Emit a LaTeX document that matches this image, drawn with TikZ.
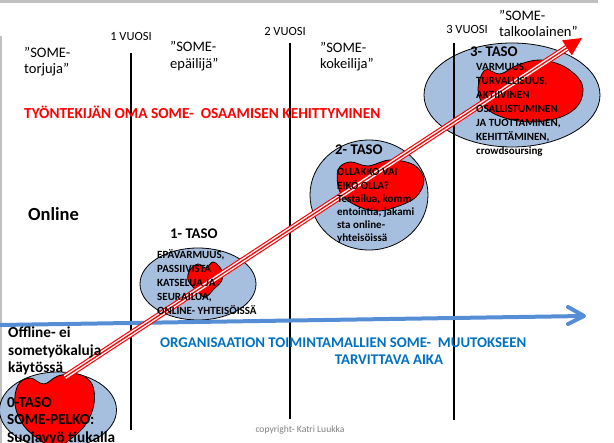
\documentclass[tikz,border=0pt]{standalone}
\usepackage{fontspec}
\setmainfont{Carlito}
\usetikzlibrary{calc,shapes.geometric}
\definecolor{framegray}{RGB}{192,192,192}
\definecolor{stagefill}{RGB}{167,191,222}
\definecolor{timeblue}{RGB}{85,142,213}
\definecolor{textblue}{RGB}{0,112,192}
\definecolor{copygray}{RGB}{128,128,128}
\newcommand\fsz[2]{\fontsize{#1}{#2}\selectfont}
\tikzset{
  vline/.style={line width=2.6pt, black},
  stage/.style={ellipse, draw=black, line width=0.8pt, fill=stagefill, inner sep=0},
  blob/.style={draw=black, line width=0.8pt, fill=red},
  yearlbl/.style={inner sep=0, font=\fsz{12.5}{14}},
  rolelbl/.style={inner sep=0, align=left, anchor=north west, font=\fsz{14.5}{16.5}},
  tasolbl/.style={inner sep=0, anchor=west, font=\fsz{14.8}{16}\bfseries},
  tasotext/.style={inner sep=0, align=left, anchor=north west},
}
\begin{document}
\begin{tikzpicture}[x=1pt,y=-1pt]
\useasboundingbox (0,0) rectangle (614,443);
\clip (0,0) rectangle (614,443);
% frame
\draw[framegray, line width=3pt] (0,1.5) -- (598,1.5);
\draw[framegray, line width=2.5pt] (1.2,36) -- (1.2,443);

% stage ellipses
\node[stage, minimum width=117pt, minimum height=76pt] (e0) at (58,410) {};
\node[stage, minimum width=116pt, minimum height=72pt] (e1) at (198,284) {};
\node[stage, minimum width=118pt, minimum height=110pt] (e2) at (369,195) {};
\node[stage, minimum width=176pt, minimum height=104pt] (e3) at (512,95) {};

% red blobs
\draw[blob] plot[smooth cycle, tension=0.6] coordinates {(18,385) (30,378) (44,384) (58,376) (78,374) (92,384) (94,404) (86,424) (72,438) (55,448) (40,440) (24,426) (15,405)};
\draw[blob] plot[smooth cycle, tension=0.6] coordinates {(190,270) (198,264) (206,268) (213,262) (221,269) (222,280) (214,289) (205,297) (196,290) (188,280)};
\draw[blob] plot[smooth cycle, tension=0.6] coordinates {(338,170) (350,162) (368,166) (390,160) (414,165) (424,180) (416,197) (396,207) (376,211) (355,205) (340,192)};
\draw[blob] plot[smooth cycle, tension=0.6] coordinates {(485,70) (500,74) (518,65) (540,60) (565,67) (582,84) (579,104) (561,117) (532,122) (505,118) (486,108) (478,90)};

% vertical year lines
\coordinate (v1t) at (131,53); \coordinate (v1b) at (131,430);
\coordinate (v2t) at (290,43); \coordinate (v2b) at (290,419);
\coordinate (v3t) at (454,43); \coordinate (v3b) at (454,420);
\draw[vline] (v1t) -- (v1b);
\draw[vline] (v2t) -- (v2b);
\draw[vline] (v3t) -- (v3b);

% blue time arrow
\coordinate (ts) at (0,325);
\coordinate (te) at (584,316);
\coordinate (tu) at (568,307);
\coordinate (tl) at (568,324);
\draw[timeblue, line width=4pt] (ts) -- (te);
\draw[timeblue, line width=4pt, line cap=round, line join=round] (tu) -- (te) -- (tl);

% red development arrow (triple line)
\coordinate (rs) at (65,377);
\coordinate (rt) at (582,38);
\coordinate (rb) at ($(rt)!18pt!(rs)$);
\draw[red, line width=6.5pt] (rs) -- (rb);
\draw[white, line width=4.2pt] (rs) -- (rb);
\draw[red, line width=1.3pt] (rs) -- (rb);
\fill[red] (rt) -- ($(rb)!9pt!90:(rt)$) -- ($(rb)!9pt!-90:(rt)$) -- cycle;

% year labels
\node[yearlbl] (y1) at (131,36) {1 VUOSI};
\node[yearlbl] (y2) at (285,31) {2 VUOSI};
\node[yearlbl] (y3) at (467,29) {3 VUOSI};

% role labels
\node[rolelbl] (r0) at (24,47) {”SOME-\\torjuja”};
\node[rolelbl] (r1) at (170,41.5) {”SOME-\\epäilijä”};
\node[rolelbl] (r2) at (320,42) {”SOME-\\kokeilija”};
\node[rolelbl] (r3) at (499,10) {”SOME-\\talkoolainen”};

% headline texts
\node[inner sep=0, anchor=west, text=red, font=\fsz{15.3}{17}\bfseries] (title) at (24,112) {TYÖNTEKIJÄN OMA SOME-\ \ OSAAMISEN KEHITTYMINEN};
\node[inner sep=0, anchor=west, font=\fsz{18.5}{20}\bfseries] (online) at (28,214) {Online};
\node[inner sep=0, anchor=west, text=textblue, font=\fsz{14.8}{16}\bfseries] (org1) at (160,343) {ORGANISAATION TOIMINTAMALLIEN SOME-\ \ MUUTOKSEEN};
\node[inner sep=0, text=textblue, font=\fsz{14.8}{16}\bfseries] (org2) at (389,360) {TARVITTAVA AIKA};

% stage labels
\node[tasolbl] (t1) at (170,234) {1- TASO};
\node[tasotext, font=\fsz{11}{14}\bfseries] (d1) at (157,249.4) {EPÄVARMUUS,\\PASSIIVISTA\\KATSELUA JA\\SEURAILUA,\\ONLINE- YHTEISÖISSÄ};
\node[tasolbl] (t2) at (335,150) {2- TASO};
\node[tasotext, font=\fsz{11}{13.2}\bfseries] (d2) at (337,168.5) {OLLAKKO VAI\\EIKÖ OLLA?\\Testailua, komm\\entointia, jakami\\sta online-\\yhteisöissä};
\node[tasolbl] (t3) at (470,52) {3- TASO};
\node[tasotext, font=\fsz{11}{14}\bfseries] (d3) at (476,63.5) {VARMUUS,\\TURVALLISUUS,\\AKTIIVINEN\\OSALLISTUMINEN\\JA TUOTTAMINEN,\\KEHITTÄMINEN,\\crowdsoursing};
\node[tasotext, font=\fsz{15.3}{17.5}\bfseries] (off) at (8,327) {Offline- ei\\sometyökaluja\\käytössä};
\node[tasotext, font=\fsz{15.3}{17.5}\bfseries] (d0) at (7,397) {0-TASO\\SOME-PELKO:\\Suojavyö tiukalla};

% copyright
\node[inner sep=0, text=copygray, font=\fsz{9.6}{11}] (copy) at (300,430) {copyright- Katri Luukka};
\end{tikzpicture}
\end{document}
